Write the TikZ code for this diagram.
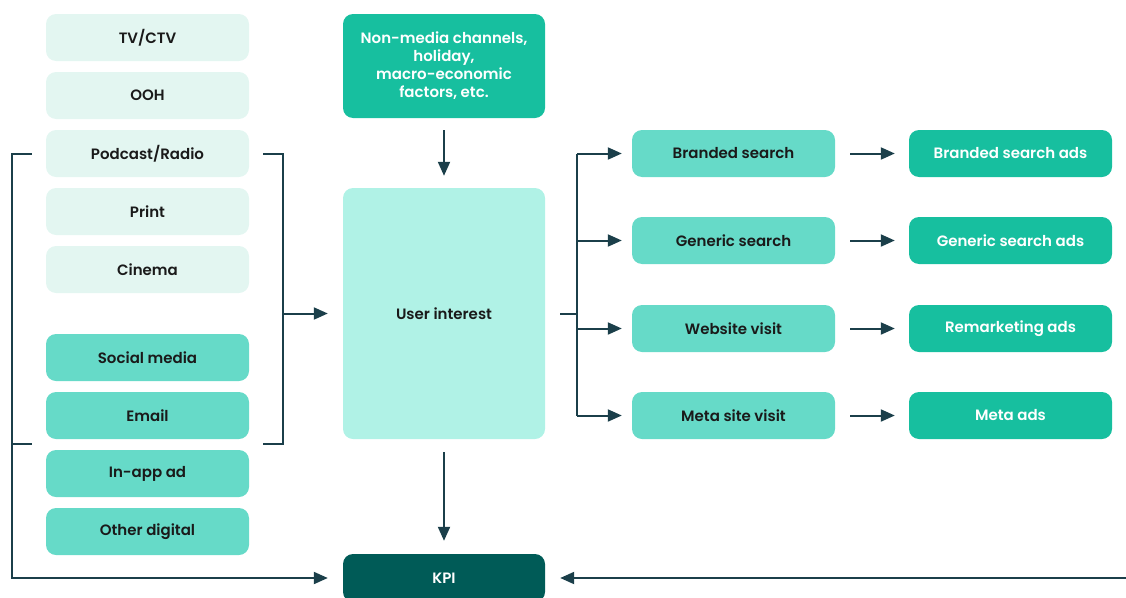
\documentclass[tikz,border=0pt]{standalone}
\usepackage{fontspec}
\setmainfont{Poppins}[BoldFont={Poppins SemiBold}]
\usetikzlibrary{arrows.meta,calc}
\definecolor{lightbox}{HTML}{E3F6F1}
\definecolor{midbox}{HTML}{66DAC8}
\definecolor{strongbox}{HTML}{17BF9F}
\definecolor{uibox}{HTML}{B0F2E6}
\definecolor{kpibox}{HTML}{005B57}
\definecolor{conn}{HTML}{1B3F4A}
\definecolor{txt}{HTML}{1A1A1A}
\begin{document}
\begin{tikzpicture}[x=1pt,y=-1pt,
  box/.style={rounded corners=10pt, minimum width=203pt, minimum height=47pt, inner sep=0pt,
    font=\fontsize{15}{18}\selectfont\bfseries, align=center, text=txt},
  lightb/.style={box, fill=lightbox},
  midb/.style={box, fill=midbox},
  strongb/.style={box, fill=strongbox, text=white},
  line/.style={draw=conn, line width=2pt},
  arr/.style={line, -{Triangle[length=14pt,width=12pt]}}]
\useasboundingbox (0,0) rectangle (1126,597);
% left column
\node[lightb] (tv) at (147.5,37.5) {TV/CTV};
\node[lightb] (ooh) at (147.5,95.5) {OOH};
\node[lightb] (pod) at (147.5,153.5) {Podcast/Radio};
\node[lightb] (print) at (147.5,211.5) {Print};
\node[lightb] (cin) at (147.5,269.5) {Cinema};
\node[midb] (soc) at (147.5,357.5) {Social media};
\node[midb] (email) at (147.5,415.5) {Email};
\node[midb] (inapp) at (147.5,473.5) {In-app ad};
\node[midb] (other) at (147.5,531.5) {Other digital};
% centre column
\node[strongb, minimum width=202pt, minimum height=104pt] (nm) at (444,66) {Non-media channels,\\holiday,\\macro-economic\\factors, etc.};
\node[box, fill=uibox, minimum width=202pt, minimum height=251pt] (ui) at (444,313.5) {User interest};
\node[box, fill=kpibox, text=white, minimum width=202pt, minimum height=48pt] (kpi) at (444,578) {KPI};
% middle right column
\node[midb] (bs) at (733.5,153.5) {Branded search};
\node[midb] (gs) at (733.5,240.5) {Generic search};
\node[midb] (wv) at (733.5,328.5) {Website visit};
\node[midb] (ms) at (733.5,415.5) {Meta site visit};
% right column
\node[strongb] (bsa) at (1010.5,153.5) {Branded search ads};
\node[strongb] (gsa) at (1010.5,240.5) {Generic search ads};
\node[strongb] (rma) at (1010.5,328.5) {Remarketing ads};
\node[strongb] (mta) at (1010.5,415.5) {Meta ads};
% coordinates
\coordinate (olt) at ($(pod.west)+(-14,0)$);
\coordinate (olb) at ($(email.west)+(-14,28.5)$);
\coordinate (ort) at ($(pod.east)+(14,0)$);
\coordinate (orb) at ($(email.east)+(14,28.5)$);
\coordinate (rmid) at ($(ui.west)+(-60,0)$);
\coordinate (redge) at (1126,578);
\coordinate (uiout) at ($(ui.east)+(15,0)$);
\coordinate (spl) at ($(ui.east)+(32,0)$);
% left outer bracket to KPI
\draw[line] (olb) -- (12,444);
\draw[arr, shorten >=15pt] (olt) -- (12,153.5) -- (12,578) -- (kpi.west);
% left inner bracket to user interest
\draw[line] (ort) -- (283,153.5) -- (283,444) -- (orb);
\draw[arr, shorten >=15pt] (rmid) -- (ui.west);
% top and bottom vertical arrows
\draw[arr, shorten <=12pt, shorten >=12pt] (nm.south) -- (ui.north);
\draw[arr, shorten <=13pt, shorten >=13pt] (ui.south) -- (kpi.north);
% right splitter
\draw[line] (uiout) -- (spl);
\draw[line] (577,153.5) -- (577,415.5);
\foreach \n in {bs,gs,wv,ms}{
  \draw[arr, shorten >=10pt] (\n.west -| spl) -- (\n.west);
}
\draw[arr, shorten <=15pt, shorten >=14pt] (bs.east) -- (bsa.west);
\draw[arr, shorten <=15pt, shorten >=14pt] (gs.east) -- (gsa.west);
\draw[arr, shorten <=15pt, shorten >=14pt] (wv.east) -- (rma.west);
\draw[arr, shorten <=15pt, shorten >=14pt] (ms.east) -- (mta.west);
% bottom right to KPI
\draw[arr, shorten >=15pt] (redge) -- (kpi.east);
\end{tikzpicture}
\end{document}
